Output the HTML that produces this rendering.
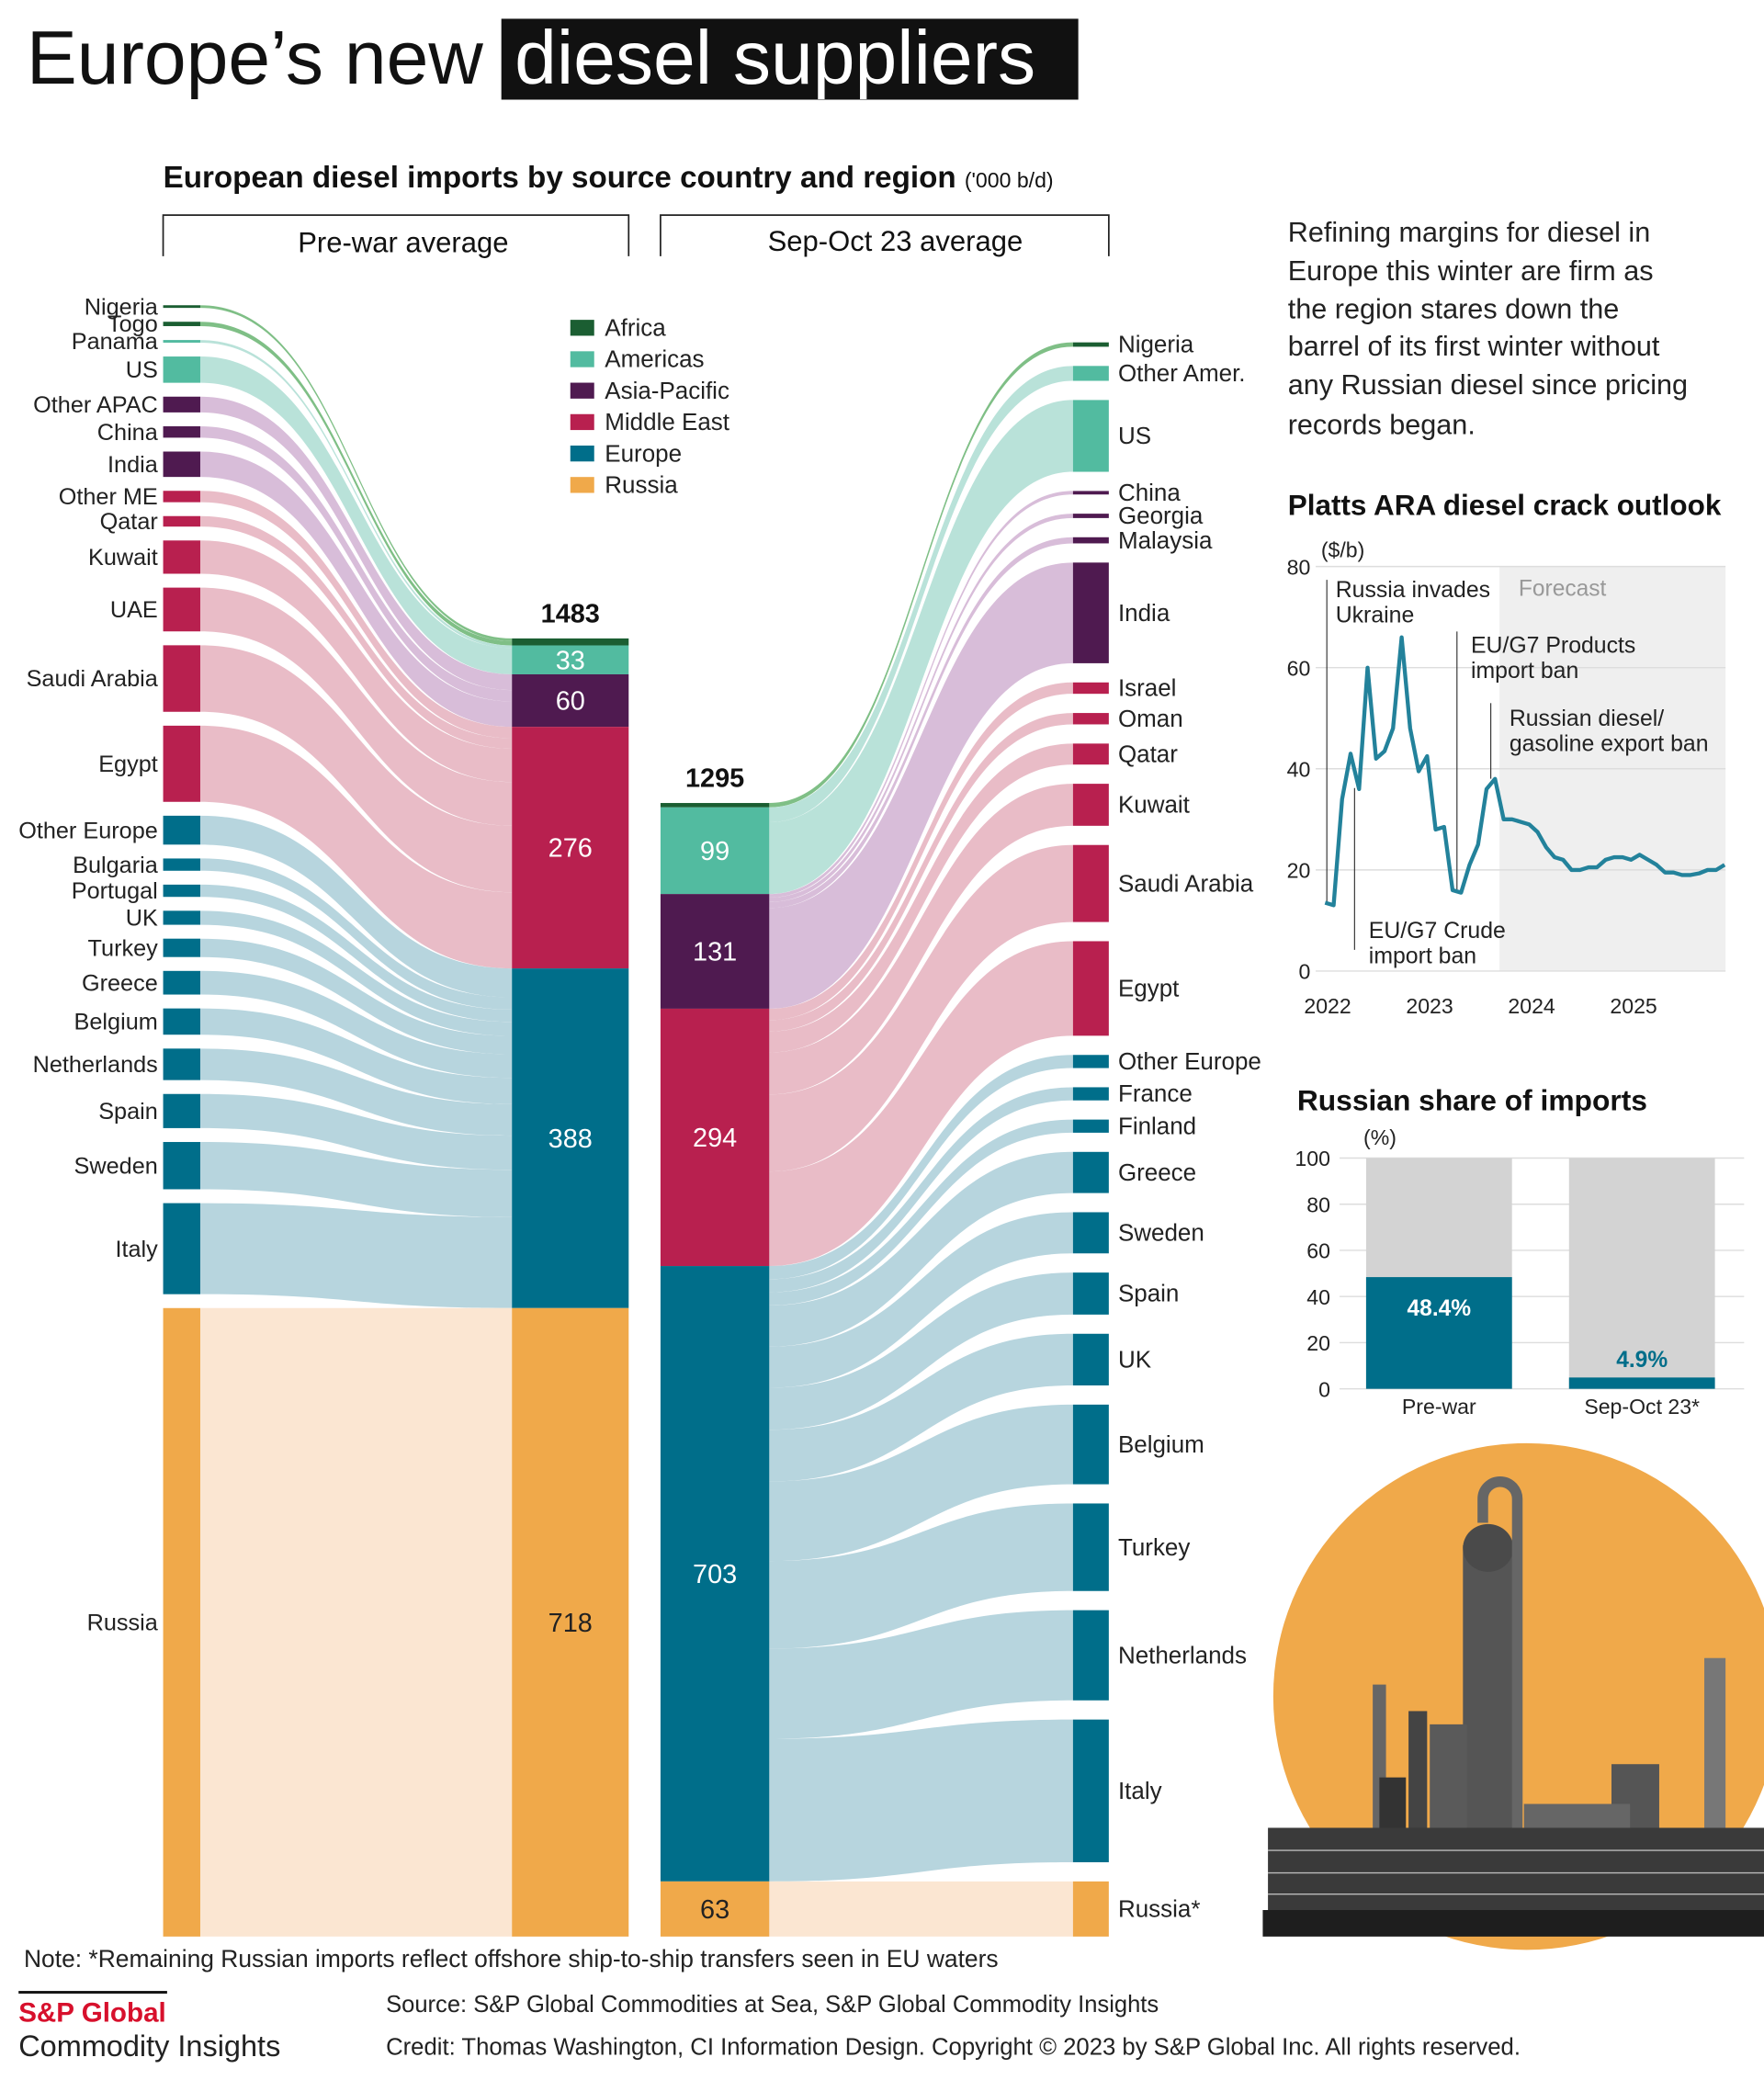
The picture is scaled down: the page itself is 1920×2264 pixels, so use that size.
<!DOCTYPE html>
<html><head><meta charset="utf-8"><style>
html,body{margin:0;padding:0;background:#fff}
svg{display:block}
text{font-family:"Liberation Sans",sans-serif}
</style></head><body>
<svg id="root" xmlns="http://www.w3.org/2000/svg" width="1920" height="2264" viewBox="0 0 1330 1568">
<g>
<text x="20" y="63" font-size="57" fill="#111">Europe’s new</text>
<rect x="378" y="14" width="435" height="61" fill="#111"/>
<text x="388" y="63" font-size="57" fill="#fff">diesel suppliers</text>
</g>
<text x="123" y="141" font-size="23" font-weight="bold" fill="#111">European diesel imports by source country and region <tspan font-size="16" font-weight="normal">('000 b/d)</tspan></text>
<g>
<path d="M123,193 V162 H474 V193" fill="none" stroke="#222" stroke-width="1.2"/>
<text x="304" y="190" font-size="21.5" text-anchor="middle" fill="#111">Pre-war average</text>
</g>
<g>
<path d="M498,193 V162 H836 V193" fill="none" stroke="#222" stroke-width="1.2"/>
<text x="675" y="189" font-size="21.5" text-anchor="middle" fill="#111">Sep-Oct 23 average</text>
</g>
<g id="sankey"></g>
<g id="legend"></g>
<g font-size="21.2" fill="#222">
<text x="971" y="182">Refining margins for diesel in</text>
<text x="971" y="211">Europe this winter are firm as</text>
<text x="971" y="240">the region stares down the</text>
<text x="971" y="268">barrel of its first winter without</text>
<text x="971" y="297">any Russian diesel since pricing</text>
<text x="971" y="327">records began.</text>
</g>
<text x="971" y="388" font-size="21.8" font-weight="bold" fill="#111">Platts ARA diesel crack outlook</text>
<g id="crack"></g>
<text x="978" y="837" font-size="22" font-weight="bold" fill="#111">Russian share of imports</text>
<g id="share"></g>
<g>
<clipPath id="clp"><rect x="952" y="1080" width="378" height="400"/></clipPath>
<g clip-path="url(#clp)">
<circle cx="1151" cy="1279" r="191" fill="#f0a94a"/>
<rect x="1103" y="1165" width="38" height="280" fill="#555"/>
<ellipse cx="1122" cy="1167" rx="19" ry="18" fill="#4a4a4a"/>
<path d="M1118,1148 V1130 A13,13 0 0 1 1144,1130 V1380" fill="none" stroke="#666" stroke-width="8"/>
<rect x="1062" y="1290" width="14" height="150" fill="#444"/>
<rect x="1078" y="1300" width="28" height="140" fill="#5a5a5a"/>
<rect x="1035" y="1270" width="10" height="170" fill="#666"/>
<rect x="1215" y="1330" width="36" height="110" fill="#555"/>
<rect x="1040" y="1340" width="20" height="100" fill="#333"/>
<rect x="1285" y="1250" width="16" height="190" fill="#777"/>
<rect x="1149" y="1360" width="80" height="80" fill="#666"/>
<rect x="956" y="1378" width="374" height="70" fill="#3a3a3a"/>
<rect x="952" y="1440" width="378" height="20" fill="#1e1e1e"/>
<g stroke="#bbb" stroke-width="1"><line x1="956" y1="1395" x2="1330" y2="1395"/><line x1="956" y1="1412" x2="1330" y2="1412"/><line x1="956" y1="1428" x2="1330" y2="1428"/></g>
</g>
</g>
<g fill="#222">
<text x="18" y="1483" font-size="18.3">Note: *Remaining Russian imports reflect offshore ship-to-ship transfers seen in EU waters</text>
<rect x="14" y="1501" width="112" height="2" fill="#111"/>
<text x="14" y="1524" font-size="20.5" font-weight="bold" fill="#d7102c">S&amp;P Global</text>
<text x="14" y="1550" font-size="22.5">Commodity Insights</text>
<text x="291" y="1517" font-size="17.7">Source: S&amp;P Global Commodities at Sea, S&amp;P Global Commodity Insights</text>
<text x="291" y="1549" font-size="17.8">Credit: Thomas Washington, CI Information Design.  Copyright © 2023 by S&amp;P Global Inc. All rights reserved.</text>
</g>
</svg>
<script>
const regionNames = ["Africa","Americas","Asia-Pacific","Middle East","Europe","Russia"];
const preWarTotals = [8,33,60,276,388,718];
const sepOctTotals = [5,99,131,294,703,63];
const leftNames = ["Nigeria","Togo","Panama","US","Other APAC","China","India","Other ME","Qatar","Kuwait","UAE","Saudi Arabia","Egypt","Other Europe","Bulgaria","Portugal","UK","Turkey","Greece","Belgium","Netherlands","Spain","Sweden","Italy","Russia"];
const leftValues = [3,5,3,30,18,13,29,13,12,38,50,76,87,33,14,14,16,21,27,30,36,39,54,104,718];
const leftRegions = [0,0,1,1,2,2,2,3,3,3,3,3,3,4,4,4,4,4,4,4,4,4,4,4,5];
const rightNames = ["Nigeria","Other Amer.","US","China","Georgia","Malaysia","India","Israel","Oman","Qatar","Kuwait","Saudi Arabia","Egypt","Other Europe","France","Finland","Greece","Sweden","Spain","UK","Belgium","Turkey","Netherlands","Italy","Russia*"];
const rightValues = [5,17,82,4,5,7,115,13,13,24,48,88,108,15,15,15,47,47,48,59,91,100,103,163,63];
const rightRegions = [0,1,1,2,2,2,2,3,3,3,3,3,3,4,4,4,4,4,4,4,4,4,4,4,5];
const crackYears = ["2022","2023","2024","2025"];
const crackTicks = [0,20,40,60,80];
const crackValues = [13.5,13,34,43,36,60,42,43.5,48,66,48,39.5,42.5,28,28.5,16,15.5,21,25,36,38,30,30,29.5,29,27.5,24.5,22.5,22,20,20,20.5,20.5,22,22.5,22.5,22,23,22,21,19.5,19.5,19,19,19.3,20,20,21];
const shareCats = ["Pre-war","Sep-Oct 23*"];
const shareValues = [48.4,4.9];
const shareTicks = [0,20,40,60,80,100];

const NS="http://www.w3.org/2000/svg";
function mk(tag,attrs,parent){const e=document.createElementNS(NS,tag);for(const k in attrs)e.setAttribute(k,attrs[k]);parent.appendChild(e);return e;}
const dark=["#1b5e32","#52bba0","#4f1a50","#b8204f","#006e8a","#f0a94a"];
const light=["#7fbf86","#b9e2d9","#d8bdd9","#e9bcc7","#b7d5de","#fbe6d2"];

// ---- Sankey ----
const sk=document.getElementById("sankey");
const K=0.66, BOT=1460;
function stackNodes(vals,top,bot){const sum=vals.reduce((a,b)=>a+b,0);const gap=(bot-top-sum*K)/(vals.length-1);let y=top;return vals.map(v=>{const r={y0:y,y1:y+v*K};y+=v*K+gap;return r;});}
function stackBar(tot){const sum=tot.reduce((a,b)=>a+b,0);let y=BOT-sum*K;return tot.map(v=>{const r={y0:y,y1:y+v*K};y+=v*K;return r;});}
const L=stackNodes(leftValues,230,BOT);
const R=stackNodes(rightValues,258,BOT);
const B1=stackBar(preWarTotals), B2=stackBar(sepOctTotals);
function ribbon(x0,a0,a1,x1,b0,b1,col){const xm=(x0+x1)/2;const p=mk("path",{d:`M${x0},${a0} C${xm},${a0} ${xm},${b0} ${x1},${b0} L${x1},${b1} C${xm},${b1} ${xm},${a1} ${x0},${a1} Z`,fill:col},sk);return p;}
let cur1=B1.map(b=>b.y0);
leftValues.forEach((v,i)=>{const r=leftRegions[i];const h=v*K;const p=ribbon(151,L[i].y0,L[i].y1,386,cur1[r],cur1[r]+h,light[r]);cur1[r]+=h;

});
let cur2=B2.map(b=>b.y0);
rightValues.forEach((v,i)=>{const r=rightRegions[i];const h=v*K;const p=ribbon(580,cur2[r],cur2[r]+h,809,R[i].y0,R[i].y1,light[r]);cur2[r]+=h;

});
leftValues.forEach((v,i)=>{const n=mk("rect",{x:123,y:L[i].y0,width:28,height:Math.max(L[i].y1-L[i].y0,2),fill:dark[leftRegions[i]]},sk);


const t=mk("text",{x:119,y:(L[i].y0+L[i].y1)/2+6,"font-size":17.5,"text-anchor":"end",fill:"#222"},sk);t.textContent=leftNames[i];

});
rightValues.forEach((v,i)=>{const n=mk("rect",{x:809,y:R[i].y0,width:27,height:Math.max(R[i].y1-R[i].y0,2),fill:dark[rightRegions[i]]},sk);


const t=mk("text",{x:843,y:(R[i].y0+R[i].y1)/2+6,"font-size":18,fill:"#222"},sk);t.textContent=rightNames[i];

});
function bar(B,tot,x,w,total){B.forEach((b,r)=>{const s=mk("rect",{x:x,y:b.y0,width:w,height:b.y1-b.y0,fill:dark[r]},sk);


if(tot[r]>20){const t=mk("text",{x:x+w/2,y:(b.y0+b.y1)/2+7,"font-size":20,"text-anchor":"middle",fill:r==5?"#222":"#fff"},sk);t.textContent=tot[r];

}});
const t=mk("text",{x:x+w/2,y:B[0].y0-12,"font-size":20,"font-weight":"bold","text-anchor":"middle",fill:"#111"},sk);t.textContent=total;

}
bar(B1,preWarTotals,386,88,preWarTotals.reduce((a,b)=>a+b,0));
bar(B2,sepOctTotals,498,82,1295);
const lg=document.getElementById("legend");
regionNames.forEach((n,i)=>{const y=241+i*23.7;const r=mk("rect",{x:430,y:y,width:18,height:12,fill:dark[i]},lg);


const t=mk("text",{x:456,y:y+12,"font-size":18,fill:"#222"},lg);t.textContent=n;

});

// ---- Crack chart ----
const cg=document.getElementById("crack");
const cy=v=>732-v*(305/80);
const cx=t=>1001+(t-2022)*76.9;
const fr=mk("rect",{x:1130.6,y:cy(80),width:1301-1130.6,height:cy(0)-cy(80),fill:"#efefef"},cg);


const ft=mk("text",{x:1145,y:449,"font-size":17,fill:"#999"},cg);ft.textContent="Forecast";


crackTicks.forEach(v=>{const l=mk("line",{x1:992,x2:1301,y1:cy(v),y2:cy(v),stroke:"#ddd","stroke-width":1},cg);


const t=mk("text",{x:988,y:cy(v)+6,"font-size":16,"text-anchor":"end",fill:"#222"},cg);t.textContent=v;

});
const ut=mk("text",{x:996,y:420,"font-size":16,fill:"#222"},cg);ut.textContent="($/b)";


crackYears.forEach((y,i)=>{const t=mk("text",{x:cx(2022+i),y:764,"font-size":16,"text-anchor":"middle",fill:"#222"},cg);t.textContent=y;

});
const anns=[[1000.4,437,681,1007,450,["Russia invades","Ukraine"]],[1021.3,594,716,1032,707,["EU/G7 Crude","import ban"]],[1098.5,476,673,1109,492,["EU/G7 Products","import ban"]],[1124,530,587,1138,547,["Russian diesel/","gasoline export ban"]]];
anns.forEach(a=>{const l=mk("line",{x1:a[0],x2:a[0],y1:a[1],y2:a[2],stroke:"#333","stroke-width":0.8},cg);


a[5].forEach((s,j)=>{const t=mk("text",{x:a[3],y:a[4]+j*19,"font-size":17.2,fill:"#222"},cg);t.textContent=s;

});});
const pts=crackValues.map((v,m)=>cx(2022+(m-0.3)/12).toFixed(1)+","+cy(v).toFixed(1)).join(" ");
const pl=mk("polyline",{points:pts,fill:"none",stroke:"#23829b","stroke-width":3,"stroke-linejoin":"round"},cg);



// ---- Share chart ----
const sg=document.getElementById("share");
const sy=v=>1047-v*1.74;
const ux=mk("text",{x:1028,y:863,"font-size":16,fill:"#222"},sg);ux.textContent="(%)";


shareTicks.forEach(v=>{const l=mk("line",{x1:1010,x2:1315,y1:sy(v),y2:sy(v),stroke:"#ddd"},sg);


const t=mk("text",{x:1003,y:sy(v)+6,"font-size":16,"text-anchor":"end",fill:"#222"},sg);t.textContent=v;

});
shareCats.forEach((c,i)=>{const x=1030+i*153;
const bg=mk("rect",{x:x,y:sy(100),width:110,height:sy(0)-sy(100),fill:"#d3d3d3"},sg);


const b=mk("rect",{x:x,y:sy(shareValues[i]),width:110,height:sy(0)-sy(shareValues[i]),fill:"#006e8a"},sg);


const inside=shareValues[i]>20;
const t=mk("text",{x:x+55,y:inside?sy(shareValues[i])+29:sy(shareValues[i])-8,"font-size":17,"font-weight":"bold","text-anchor":"middle",fill:inside?"#fff":"#006e8a"},sg);t.textContent=shareValues[i].toFixed(1)+"%";


const xl=mk("text",{x:x+55,y:1066,"font-size":16,"text-anchor":"middle",fill:"#222"},sg);xl.textContent=c;

});
</script>
</body></html>
